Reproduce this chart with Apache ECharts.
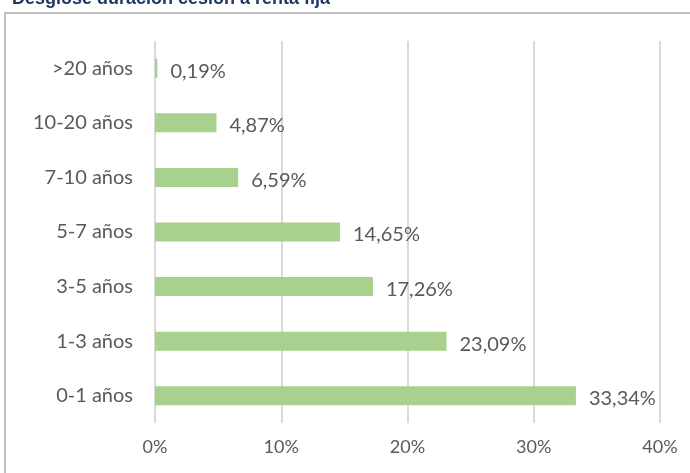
<!DOCTYPE html>
<html style="height: 100%">
<head>
    <meta charset="utf-8">
</head>
<body style="margin: 0; height: 100%">
<div id="container" style="width: 690px; height: 473px"></div>
<script type="text/javascript" src="https://cdn.jsdelivr.net/npm/echarts@6/dist/echarts.min.js"></script>
<script type="text/javascript">
    // tramos de duración (de abajo a arriba) y peso en %
    var categories = ['0-1 años', '1-3 años', '3-5 años', '5-7 años', '7-10 años', '10-20 años', '>20 años'];
    var values = [33.34, 23.09, 17.26, 14.65, 6.59, 4.87, 0.19];
    var xTicks = [0, 10, 20, 30, 40];

    var dom = document.getElementById('container');
    var myChart = echarts.init(dom);
    var font = 'Lato, sans-serif';

    var option = {
        animation: false,
        title: {
            text: 'Desglose duración cesión a renta fija',
            left: 7,
            top: -15,
            textStyle: {
                color: '#1f3864',
                fontSize: 18,
                fontWeight: 'bold',
                fontFamily: 'Arial, "Liberation Sans", sans-serif'
            }
        },
        graphic: [{
            type: 'rect',
            shape: { x: 5, y: 13, width: 720, height: 500 },
            style: { fill: 'none', stroke: '#bfbfbf', lineWidth: 2 }
        }],
        grid: {
            left: 155,
            right: 30,
            top: 41,
            bottom: 50
        },
        xAxis: {
            type: 'value',
            min: xTicks[0],
            max: xTicks[xTicks.length - 1],
            interval: 10,
            axisLine: { show: false },
            axisTick: { show: false },
            splitLine: { lineStyle: { color: '#d9d9d9', width: 2 } },
            axisLabel: {
                color: '#595959',
                fontSize: 18,
                fontFamily: font,
                margin: 15,
                formatter: function (v) { return v + '%'; }
            }
        },
        yAxis: {
            type: 'category',
            data: categories,
            axisLine: { show: false },
            axisTick: { show: false },
            axisLabel: {
                color: '#595959',
                fontSize: 20,
                fontFamily: font,
                margin: 22
            }
        },
        series: [{
            type: 'bar',
            data: values,
            barWidth: 19,
            itemStyle: { color: '#a9d18e' },
            label: {
                show: true,
                position: 'right',
                distance: 13,
                offset: [0, 3],
                color: '#595959',
                fontSize: 20,
                fontFamily: font,
                formatter: function (p) { return p.value.toFixed(2).replace('.', ',') + '%'; }
            }
        }]
    };

    myChart.setOption(option);
</script>
</body>
</html>
